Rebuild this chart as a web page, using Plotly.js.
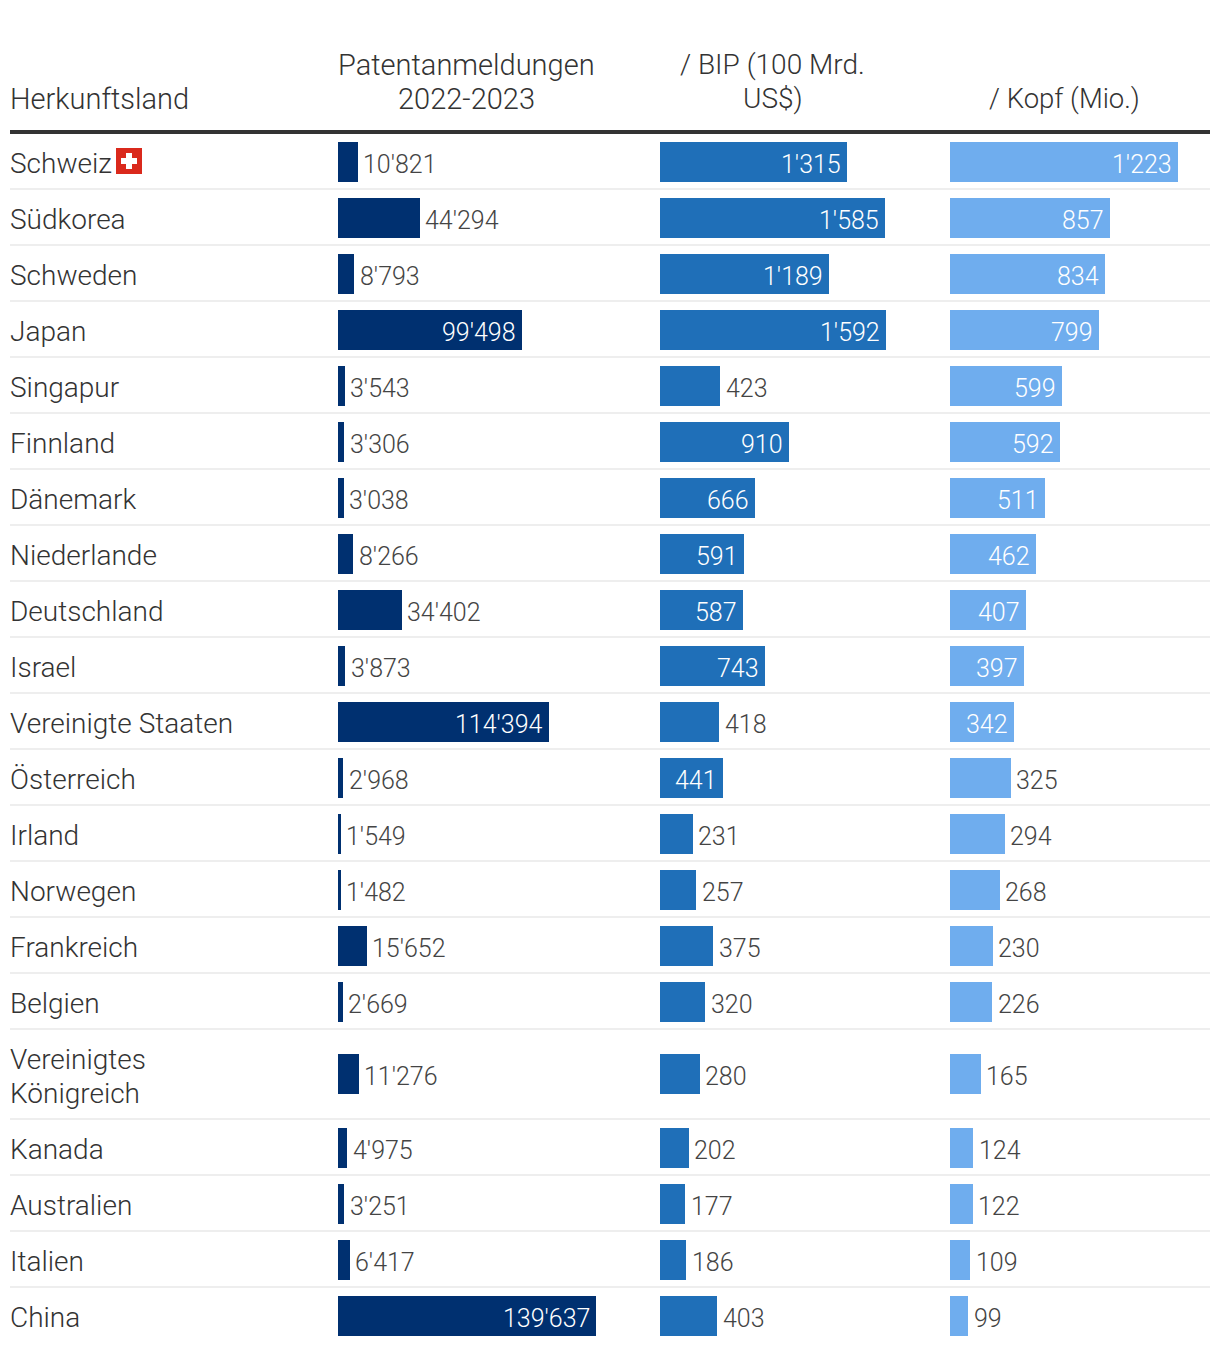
<!DOCTYPE html>
<html>
<head>
<meta charset="utf-8">
<script src="https://cdn.plot.ly/plotly-3.0.1.min.js"></script>
<style>html,body{margin:0;padding:0;background:#fff}#chart{width:1220px;height:1352px}</style>
</head>
<body>
<div id="chart"></div>
<script>
var countries = ["Schweiz","Südkorea","Schweden","Japan","Singapur","Finnland","Dänemark","Niederlande","Deutschland","Israel","Vereinigte Staaten","Österreich","Irland","Norwegen","Frankreich","Belgien","Vereinigtes<br>Königreich","Kanada","Australien","Italien","China"];
var patents = [10821,44294,8793,99498,3543,3306,3038,8266,34402,3873,114394,2968,1549,1482,15652,2669,11276,4975,3251,6417,139637];
var perGdp = [1315,1585,1189,1592,423,910,666,591,587,743,418,441,231,257,375,320,280,202,177,186,403];
var perCapita = [1223,857,834,799,599,592,511,462,407,397,342,325,294,268,230,226,165,124,122,109,99];
var headerCountry = "Herkunftsland";
var headerPatents = "Patentanmeldungen<br>2022-2023";
var headerGdp = "/ BIP (100 Mrd.<br>US$)";
var headerCapita = "/ Kopf (Mio.)";

var W = 1220, H = 1352;
var FONT = "Roboto, Inter, sans-serif";
var LABEL = 28, HEAD = 29, VALUE = 25, LINE = 34;
var rowH = countries.map(function(c){ return c.indexOf("<br>") >= 0 ? 90 : 56; });
var tops = [], t = 134;
rowH.forEach(function(h){ tops.push(t); t += h; });
var centers = tops.map(function(top, i){ return rowH[i] > 56 ? top + 44 : top + 28; });

var cols = [
  {vals: patents,  color: "#003070", left: 338, pxPerUnit: 258/139637, inside: 99498, axis: "x",  center: 466,  header: headerPatents, headSize: 29},
  {vals: perGdp,   color: "#1F6FB8", left: 660, pxPerUnit: 226/1592,   inside: 441,   axis: "x2", center: 772.5,header: headerGdp, headSize: 28},
  {vals: perCapita,color: "#6FADEE", left: 950, pxPerUnit: 228/1223,   inside: 342,   axis: "x3", center: 1064, header: headerCapita, headSize: 27.5}
];
function fmt(v){ return String(v).replace(/\B(?=(\d{3})+$)/g, "'"); }

var traces = [], annotations = [], shapes = [];
var layout = {
  width: W, height: H, margin: {l:0,r:0,t:0,b:0},
  paper_bgcolor: "#fff", plot_bgcolor: "#fff", showlegend: false, bargap: 0,
  font: {family: FONT},
  yaxis: {range: [H, 0], domain: [0,1], visible: false, fixedrange: true}
};
function addLines(text, x, lastY, anchor, size){
  var parts = text.split("<br>");
  parts.forEach(function(p, i){
    annotations.push({xref: "paper", yref: "y", x: x/W, y: lastY - (parts.length - 1 - i)*LINE, text: p, showarrow: false,
      xanchor: anchor, yanchor: "middle", font: {family: FONT, size: size, weight: 300, color: "#333"}});
  });
}
cols.forEach(function(c, i){
  var span = 260;
  var name = i === 0 ? "xaxis" : "xaxis" + (i+1);
  layout[name] = {domain: [c.left/W, (c.left+span)/W], range: [0, span/c.pxPerUnit], visible: false, fixedrange: true, anchor: "y"};
  traces.push({type: "bar", orientation: "h", x: c.vals, y: centers, width: 40, xaxis: c.axis, yaxis: "y",
    marker: {color: c.color, line: {width: 0}}, hoverinfo: "skip"});
  c.vals.forEach(function(v, k){
    var inside = v >= c.inside;
    annotations.push({xref: c.axis, yref: "y", x: v, y: centers[k] + 2.5, text: fmt(v), showarrow: false,
      xanchor: inside ? "right" : "left", yanchor: "middle", xshift: inside ? -6 : 5.5, borderpad: 0, borderwidth: 0,
      font: {family: FONT, size: VALUE, weight: 300, color: inside ? "#fff" : "#444"}});
  });
  addLines(c.header, c.center, 98.5, "center", c.headSize);
});
addLines(headerCountry, 8, 98.5, "left", HEAD);
countries.forEach(function(c, k){
  var n = c.split("<br>").length;
  addLines(c, 8, centers[k] + 1 + (n - 1)*(LINE/2 + 1), "left", LABEL);
  if (k < countries.length - 1) {
    var yy = tops[k] + rowH[k] - 1;
    shapes.push({type: "line", xref: "paper", yref: "y", x0: 10/W, x1: 1210/W, y0: yy, y1: yy, line: {color: "#eeeeee", width: 2}});
  }
});
shapes.push({type: "line", xref: "paper", yref: "y", x0: 10/W, x1: 1210/W, y0: 132, y1: 132, line: {color: "#333", width: 4}});
// Swiss flag next to the first row label
shapes.push({type: "rect", xref: "paper", yref: "y", x0: 116/W, x1: 142/W, y0: 148, y1: 174, fillcolor: "#DA291C", line: {width: 0}});
shapes.push({type: "rect", xref: "paper", yref: "y", x0: 121/W, x1: 137/W, y0: 158, y1: 164, fillcolor: "#fff", line: {width: 0}});
shapes.push({type: "rect", xref: "paper", yref: "y", x0: 126/W, x1: 132/W, y0: 153, y1: 169, fillcolor: "#fff", line: {width: 0}});
layout.annotations = annotations;
layout.shapes = shapes;
Plotly.newPlot("chart", traces, layout, {displayModeBar: false, staticPlot: true});
</script>
</body>
</html>
